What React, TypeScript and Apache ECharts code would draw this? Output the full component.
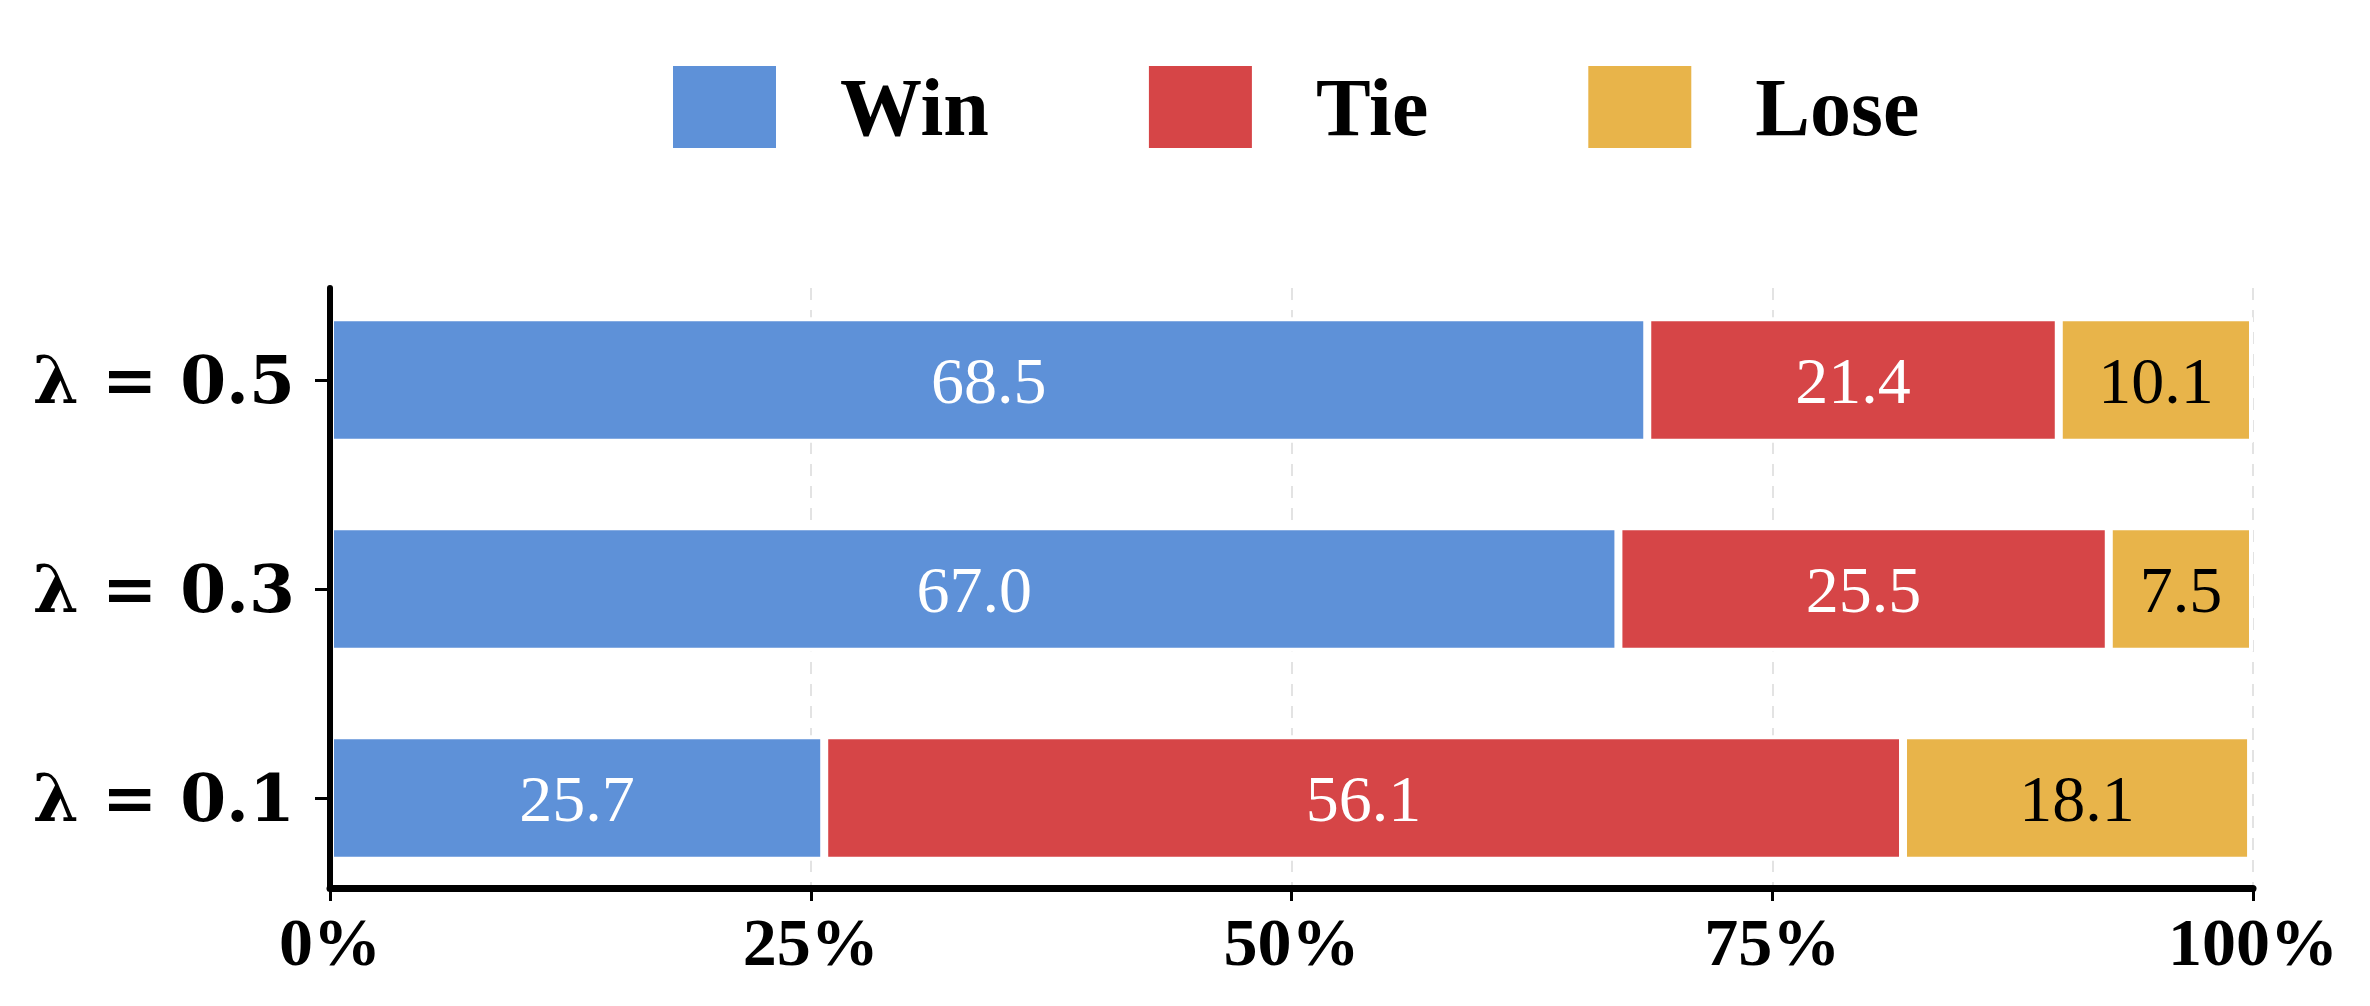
import React, { useEffect, useRef } from "react";
import * as echarts from "echarts";

const categories = ["λ = 0.1", "λ = 0.3", "λ = 0.5"];
const seriesNames = ["Win", "Tie", "Lose"];
const winValues = [25.7, 67.0, 68.5];
const tieValues = [56.1, 25.5, 21.4];
const loseValues = [18.1, 7.5, 10.1];
const xTicks = [0, 25, 50, 75, 100];

const COLORS = ["#5E91D8", "#D64547", "#E8B44A"];
const LABEL_COLORS = ["#ffffff", "#ffffff", "#000000"];

export default function App() {
  const ref = useRef<HTMLDivElement>(null);

  useEffect(() => {
    if (!ref.current) return;
    const chart = echarts.init(ref.current, undefined, { renderer: "svg" });
    const values = [winValues, tieValues, loseValues];

    const gridLeft = 330;
    const gridWidth = 1923;
    const band = 209;

    const option: any = {
      animation: false,
      backgroundColor: "#ffffff",
      legend: {
        data: seriesNames,
        left: 666,
        top: 59,
        itemWidth: 105,
        itemHeight: 84,
        itemGap: 158,
        icon: "rect",
        textStyle: {
          fontFamily: "Liberation Serif",
          fontWeight: "bold",
          fontSize: 82,
          color: "#000",
          padding: [0, 0, 0, 58],
        },
      },
      grid: [
        { left: gridLeft, width: gridWidth, top: 288, height: 600 },
        { left: gridLeft, width: gridWidth, top: 380 - band / 2, height: band * 3 },
      ],
      xAxis: [
        {
          gridIndex: 0,
          type: "value",
          position: "bottom",
          min: 0,
          max: 100,
          interval: 25,
          z: 10,
          axisLine: { show: true, lineStyle: { color: "#000", width: 7 } },
          axisTick: { show: true, length: 13, lineStyle: { color: "#000", width: 3 } },
          axisLabel: {
            margin: 20,
            formatter: (v: number) => (xTicks.includes(v) ? v + "%" : ""),
            fontFamily: "Liberation Serif",
            fontWeight: "bold",
            fontSize: 68,
            color: "#000",
          },
          splitLine: { show: false },
        },
        {
          gridIndex: 1,
          type: "value",
          min: 0,
          max: 100,
          show: false,
          splitLine: { show: false },
        },
        {
          gridIndex: 0,
          type: "value",
          position: "bottom",
          min: 0,
          max: 100,
          interval: 25,
          axisLine: { show: false },
          axisTick: { show: false },
          axisLabel: { show: false },
          splitLine: {
            show: true,
            lineStyle: { color: "#e3e3e3", width: 2, type: [12, 10] },
          },
        },
      ],
      yAxis: [
        {
          gridIndex: 0,
          type: "value",
          min: 0,
          max: 1,
          z: 10,
          axisLine: { show: true, lineStyle: { color: "#000", width: 6 } },
          axisTick: { show: false },
          axisLabel: { show: false },
          splitLine: { show: false },
        },
        {
          gridIndex: 1,
          type: "category",
          data: categories,
          axisLine: { show: false },
          axisTick: {
            show: true,
            alignWithLabel: true,
            length: 15,
            lineStyle: { color: "#000", width: 3 },
          },
          axisLabel: {
            margin: 35,
            fontFamily: "DejaVu Serif",
            fontWeight: "bold",
            fontSize: 66,
            color: "#000",
          },
          splitLine: { show: false },
        },
      ],
      series: seriesNames.map((name, i) => ({
        name,
        type: "bar",
        stack: "total",
        xAxisIndex: 1,
        yAxisIndex: 1,
        barWidth: "60%",
        data: values[i],
        itemStyle: {
          color: COLORS[i],
          borderColor: "#ffffff",
          borderWidth: 4,
        },
        label: {
          show: true,
          position: "inside",
          formatter: (p: any) => Number(p.value).toFixed(1),
          fontFamily: "Liberation Serif",
          fontSize: 66,
          color: LABEL_COLORS[i],
        },
      })),
    };

    chart.setOption(option);
    return () => chart.dispose();
  }, []);

  return (
    <div
      ref={ref}
      style={{ position: "absolute", left: 0, top: 0, width: 2370, height: 1006 }}
    />
  );
}
